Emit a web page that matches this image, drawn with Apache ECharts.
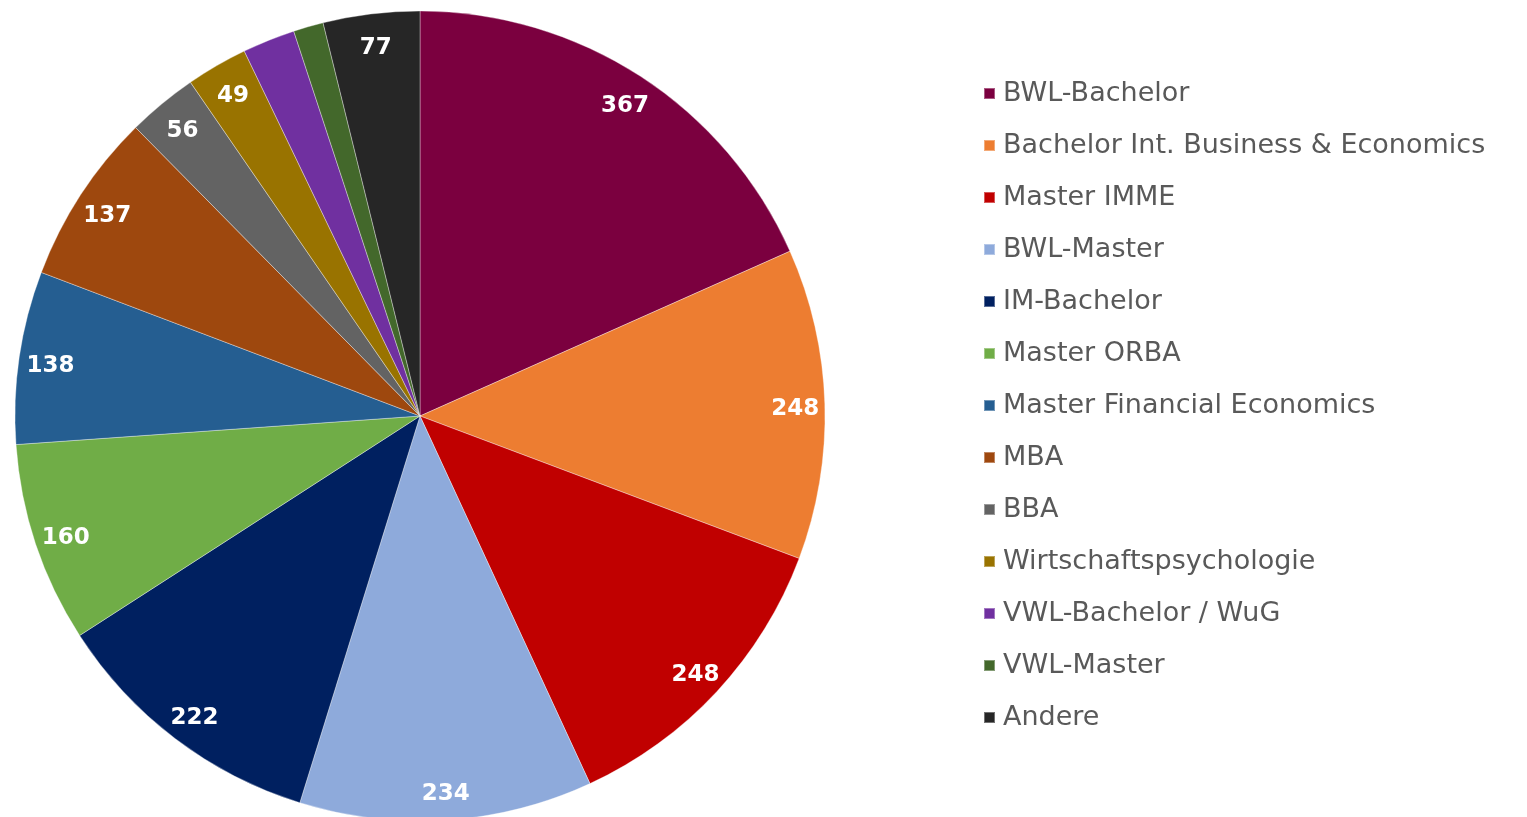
<!DOCTYPE html>
<html>
<head>
<meta charset="utf-8">
<script src="https://cdn.jsdelivr.net/npm/echarts@6/dist/echarts.min.js"></script>
<style>
  html, body { margin: 0; padding: 0; background: #fff; }
  #chart { width: 1527px; height: 817px; }
</style>
</head>
<body>
<div id="chart"></div>
<script>
// Studiengänge und Anzahl
var categories = ['BWL-Bachelor', 'Bachelor Int. Business & Economics', 'Master IMME', 'BWL-Master',
    'IM-Bachelor', 'Master ORBA', 'Master Financial Economics', 'MBA', 'BBA',
    'Wirtschaftspsychologie', 'VWL-Bachelor / WuG', 'VWL-Master', 'Andere'];
var values = [367, 248, 248, 234, 222, 160, 138, 137, 56, 49, 42, 24, 77];
var colors = ['#7b003f', '#ed7d31', '#c00000', '#8eaadb', '#002060', '#70ad47', '#255e91',
    '#9e480e', '#636363', '#997300', '#7030a0', '#43682b', '#262626'];
// diese Werte stehen nicht im Bild
var hideLabel = ['VWL-Bachelor / WuG', 'VWL-Master'];

var myChart = echarts.init(document.getElementById('chart'));

var pieData = categories.map(function (name, i) {
    return { name: name, value: values[i], itemStyle: { color: colors[i] } };
});
var labelData = categories.map(function (name, i) {
    return {
        name: name,
        value: values[i],
        label: { show: hideLabel.indexOf(name) < 0 }
    };
});

var option = {
    animation: false,
    color: colors,
    legend: {
        orient: 'vertical',
        left: 978,
        top: 75,
        itemWidth: 11,
        itemHeight: 11,
        itemGap: 25,
        icon: 'rect',
        textStyle: {
            fontFamily: 'DejaVu Sans',
            fontSize: 27,
            lineHeight: 27,
            color: '#595959',
            padding: [0, 0, 0, 3]
        },
        data: categories
    },
    series: [
        {
            type: 'pie',
            center: [420, 416],
            radius: [0, 405],
            startAngle: 90,
            clockwise: true,
            silent: true,
            label: { show: false },
            labelLine: { show: false },
            itemStyle: { borderColor: 'rgba(255,255,255,0.35)', borderWidth: 1 },
            data: pieData
        },
        {
            // nur für die Beschriftung weiter außen
            type: 'pie',
            center: [421, 420],
            radius: [338, 405],
            startAngle: 90,
            clockwise: true,
            silent: true,
            legendHoverLink: false,
            itemStyle: { color: 'rgba(0,0,0,0)' },
            label: {
                show: true,
                position: 'inside',
                color: '#ffffff',
                fontFamily: 'DejaVu Sans',
                fontWeight: 'bold',
                fontSize: 23,
                formatter: '{c}'
            },
            labelLine: { show: false },
            data: labelData
        }
    ]
};

myChart.setOption(option);
</script>
</body>
</html>
